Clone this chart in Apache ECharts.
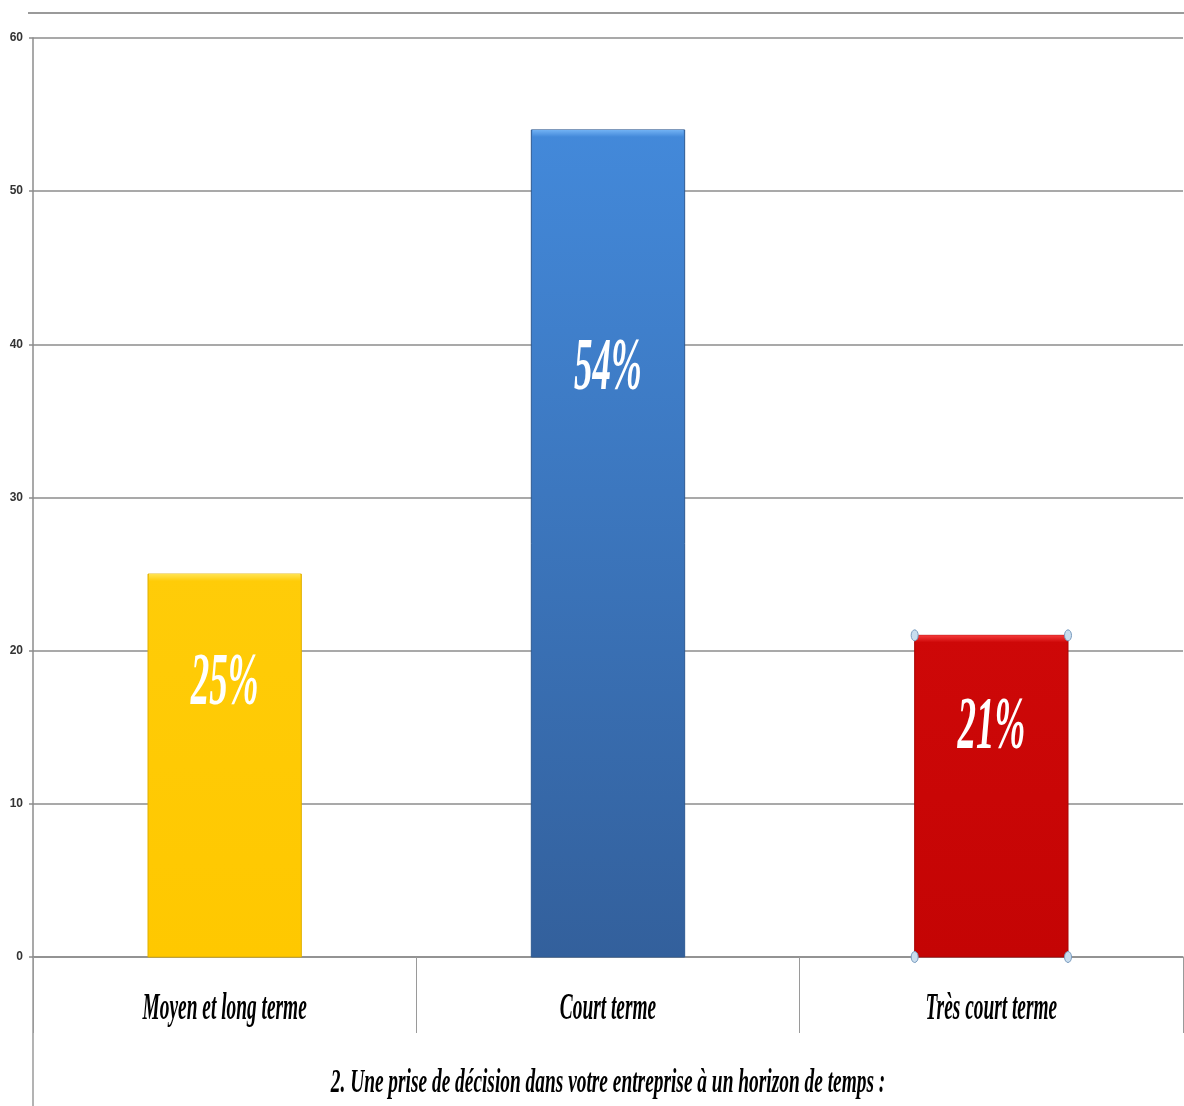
<!DOCTYPE html>
<html>
<head>
<meta charset="utf-8">
<script src="https://cdn.jsdelivr.net/npm/echarts@6/dist/echarts.min.js"></script>
<style>
  html, body { margin: 0; padding: 0; background: #fff; }
  #chart { width: 1184px; height: 1106px; }
</style>
</head>
<body>
<div id="chart"></div>
<script>
// Horizon de temps des décisions (pourcentage des répondants)
const categories = ['Moyen et long terme', 'Court terme', 'Très court terme'];
const values = [25, 54, 21];
const valueLabels = ['25%', '54%', '21%'];
const yTicks = { min: 0, max: 60, interval: 10 };
const axisTitle = '2. Une prise de décision dans votre entreprise à un horizon de temps :';

// Bar colours: [top bevel, body top, body bottom, edge]
const palette = [
  ['#FFE352', '#FFCC08', '#FFC800', '#E0B000'],
  ['#72B2F4', '#4389DA', '#33609C', '#2E5A92'],
  ['#F53A3A', '#CE0808', '#C40404', '#A80404']
];

const chart = echarts.init(document.getElementById('chart'));

function renderBar(params, api) {
  const i = api.value(0);
  const v = api.value(1);
  const top = api.coord([i, v]);
  const base = api.coord([i, 0]);
  const bandW = api.size([1, 0])[0];
  const w = bandW * 0.4;
  const x = top[0] - w / 2;
  const h = base[1] - top[1];
  const c = palette[i];
  const children = [
    {
      type: 'rect',
      shape: { x: x, y: top[1], width: w, height: h },
      style: {
        fill: new echarts.graphic.LinearGradient(0, 0, 0, 1, [
          { offset: 0, color: c[1] }, { offset: 1, color: c[2] }
        ]),
        stroke: c[3], lineWidth: 1
      }
    },
    {
      type: 'rect',
      shape: { x: x + 1, y: top[1], width: w - 2, height: 7 },
      style: {
        fill: new echarts.graphic.LinearGradient(0, 0, 0, 1, [
          { offset: 0, color: c[0] }, { offset: 1, color: c[1] }
        ])
      }
    },
    {
      type: 'text',
      x: top[0],
      y: top[1] + h * 0.29,
      scaleX: 0.5,
      style: {
        x: 0, y: 0,
        text: valueLabels[i],
        font: 'italic bold 74px "Liberation Serif"',
        fill: '#ffffff',
        align: 'center', verticalAlign: 'middle'
      }
    },
    {
      type: 'text',
      x: top[0],
      y: base[1] + 52,
      scaleX: 0.51,
      style: {
        x: 0, y: 0,
        text: categories[i],
        font: 'italic bold 38px "Liberation Serif"',
        fill: '#000000',
        align: 'center', verticalAlign: 'middle'
      }
    }
  ];
  // selection handles on the last bar
  if (i === values.length - 1) {
    [[x, top[1]], [x + w, top[1]], [x, base[1]], [x + w, base[1]]].forEach(function (p) {
      children.push({
        type: 'ellipse',
        shape: { cx: p[0], cy: p[1], rx: 3.5, ry: 5.5 },
        style: { fill: '#C9DDEE', stroke: '#7A9CBF', lineWidth: 1 }
      });
    });
  }
  return { type: 'group', children: children };
}

chart.setOption({
  animation: false,
  backgroundColor: '#ffffff',
  grid: { left: 33, right: 1, top: 38, bottom: 149, containLabel: false },
  xAxis: {
    type: 'category',
    data: categories,
    boundaryGap: true,
    axisLine: { show: true, lineStyle: { color: '#8c8c8c', width: 1.5 } },
    axisTick: { show: true, length: 76, interval: 0, lineStyle: { color: '#9a9a9a', width: 1 } },
    axisLabel: { show: false },
    splitLine: { show: false }
  },
  yAxis: {
    type: 'value',
    min: yTicks.min, max: yTicks.max, interval: yTicks.interval,
    axisLine: { show: true, lineStyle: { color: '#8c8c8c', width: 1.5 } },
    axisTick: { show: true, length: 4, lineStyle: { color: '#8c8c8c', width: 1.5 } },
    axisLabel: {
      margin: 10,
      fontFamily: '"Liberation Sans Narrow", "Liberation Sans", sans-serif',
      fontSize: 12, fontWeight: 'bold', color: '#333'
    },
    splitLine: { show: true, lineStyle: { color: '#8c8c8c', width: 1.5 } }
  },
  series: [{
    type: 'custom',
    renderItem: renderBar,
    clip: false,
    data: values.map(function (v, i) { return [i, v]; }),
    encode: { x: 0, y: 1 },
    z: 3
  }],
  graphic: [
    {
      type: 'line',
      shape: { x1: 28, y1: 13, x2: 1184, y2: 13 },
      style: { stroke: '#9a9a9a', lineWidth: 2 }
    },
    {
      type: 'line',
      shape: { x1: 33, y1: 957, x2: 33, y2: 1106 },
      style: { stroke: '#9a9a9a', lineWidth: 1.5 }
    },
    {
      type: 'text',
      x: 608, y: 1083,
      scaleX: 0.57,
      style: {
        x: 0, y: 0,
        text: axisTitle,
        font: 'italic bold 34px "Liberation Serif"',
        fill: '#000000',
        align: 'center', verticalAlign: 'middle'
      }
    }
  ]
});
</script>
</body>
</html>
